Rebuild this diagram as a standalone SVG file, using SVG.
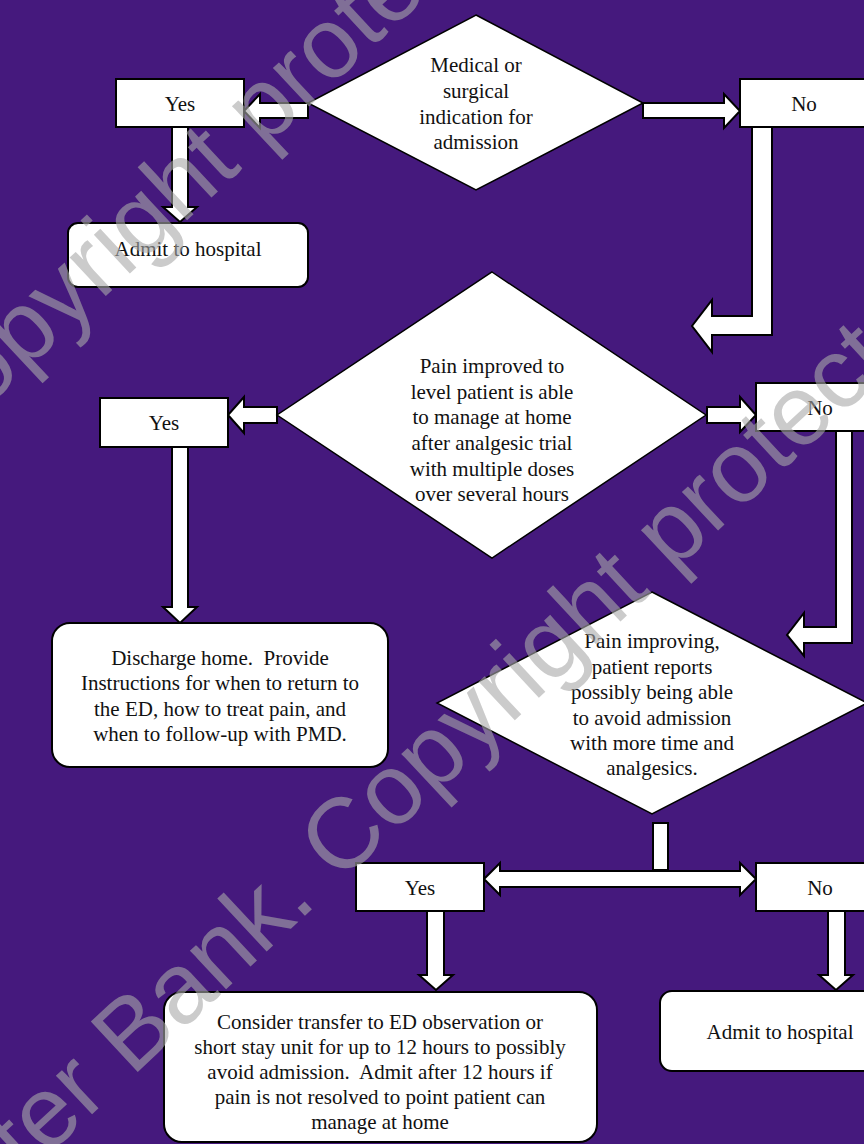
<svg xmlns="http://www.w3.org/2000/svg" width="864" height="1144" viewBox="0 0 864 1144">
<style>
.box{fill:#fff;stroke:#000;stroke-width:2}
.dia{fill:#fff;stroke:#000;stroke-width:1.5}
.arr{fill:#fff;stroke:#000;stroke-width:2;stroke-linejoin:miter}
text{font-family:"Liberation Serif","Times New Roman",serif;font-size:21px;fill:#111;text-anchor:middle;white-space:pre}
.wm{font-family:"Liberation Sans",Arial,sans-serif;font-size:100px;fill:#a8a8a8;fill-opacity:0.6;text-anchor:start}
</style>
<rect x="0" y="0" width="864" height="1144" fill="#45197d"/>

<g id="connectors">
<path class="arr" d="M308,103 L260,103 L260,94 L244,111 L260,128 L260,118 L308,118 Z"/>
<path class="arr" d="M643,103 L724,103 L724,94 L740,111 L724,128 L724,118 L643,118 Z"/>
<path class="arr" d="M172,127 L172,207 L163,207 L180,222 L197,207 L188,207 L188,127 Z"/>
<path class="arr" d="M752,127 L752,316 L712,316 L712,300 L692,326 L712,352 L712,335 L772,335 L772,127 Z"/>
<path class="arr" d="M277,407 L244,407 L244,397 L228,415 L244,433 L244,423 L277,423 Z"/>
<path class="arr" d="M707,407 L740,407 L740,397 L756,415 L740,432 L740,423 L707,423 Z"/>
<path class="arr" d="M172,447 L172,607 L163,607 L180,623 L197,607 L188,607 L188,447 Z"/>
<path class="arr" d="M836,431 L836,627 L804,627 L804,613 L787,635 L804,656 L804,643 L852,643 L852,431 Z"/>
<rect class="arr" x="653" y="823" width="15" height="47"/>
<path class="arr" d="M484,879 L500,863 L500,871 L740,871 L740,863 L756,879 L740,895 L740,887 L500,887 L500,895 Z"/>
<path class="arr" d="M427,911 L427,975 L419,975 L436,990 L453,975 L444,975 L444,911 Z"/>
<path class="arr" d="M828,911 L828,975 L819,975 L836,990 L853,975 L845,975 L845,911 Z"/>
</g>

<g id="d1">
<polygon class="dia" points="476,15 643,103 476,190 308,103"/>
<text x="476" y="72">Medical or</text>
<text x="476" y="98">surgical</text>
<text x="476" y="124">indication for</text>
<text x="476" y="149">admission</text>
</g>
<g id="yes1"><rect class="box" x="116" y="79" width="128" height="48"/><text x="180" y="111">Yes</text></g>
<g id="no1"><rect class="box" x="740" y="79" width="128" height="48"/><text x="804" y="111">No</text></g>
<g id="admit1"><rect class="box" x="68" y="223" width="240" height="64" rx="10"/><text x="188" y="256">Admit to hospital</text></g>

<g id="d2">
<polygon class="dia" points="492,272 706,415 492,558 277,415"/>
<text x="492" y="373">Pain improved to</text>
<text x="492" y="398.5">level patient is able</text>
<text x="492" y="424">to manage at home</text>
<text x="492" y="450">after analgesic trial</text>
<text x="492" y="475.5">with multiple doses</text>
<text x="492" y="501">over several hours</text>
</g>
<g id="yes2"><rect class="box" x="100" y="398" width="128" height="49"/><text x="164" y="430">Yes</text></g>
<g id="no2"><rect class="box" x="756" y="383" width="128" height="48"/><text x="820" y="415">No</text></g>
<g id="discharge">
<rect class="box" x="52" y="623" width="336" height="144" rx="18"/>
<text x="220" y="665">Discharge home.  Provide</text>
<text x="220" y="690">Instructions for when to return to</text>
<text x="220" y="715.5">the ED, how to treat pain, and</text>
<text x="220" y="741">when to follow-up with PMD.</text>
</g>

<g id="d3">
<polygon class="dia" points="652,592 867,703 652,814 437,703"/>
<text x="652" y="648">Pain improving,</text>
<text x="652" y="673.5">patient reports</text>
<text x="652" y="699">possibly being able</text>
<text x="652" y="724.5">to avoid admission</text>
<text x="652" y="750">with more time and</text>
<text x="652" y="775">analgesics.</text>
</g>
<g id="yes3"><rect class="box" x="356" y="863" width="128" height="48"/><text x="420" y="895">Yes</text></g>
<g id="no3"><rect class="box" x="756" y="863" width="128" height="48"/><text x="820" y="895">No</text></g>
<g id="consider">
<rect class="box" x="164" y="992" width="433" height="150" rx="18"/>
<text x="380" y="1029">Consider transfer to ED observation or</text>
<text x="380" y="1054">short stay unit for up to 12 hours to possibly</text>
<text x="380" y="1079">avoid admission.  Admit after 12 hours if</text>
<text x="380" y="1104">pain is not resolved to point patient can</text>
<text x="380" y="1129">manage at home</text>
</g>
<g id="admit2"><rect class="box" x="660" y="991" width="240" height="80" rx="12"/><text x="780" y="1039">Admit to hospital</text></g>

<g id="watermark">
<text class="wm" transform="translate(-70,460) rotate(-43)">Copyright protected</text>
<text class="wm" transform="translate(26,1176) rotate(-43)">ter Bank. Copyright protected</text>
</g>
</svg>
